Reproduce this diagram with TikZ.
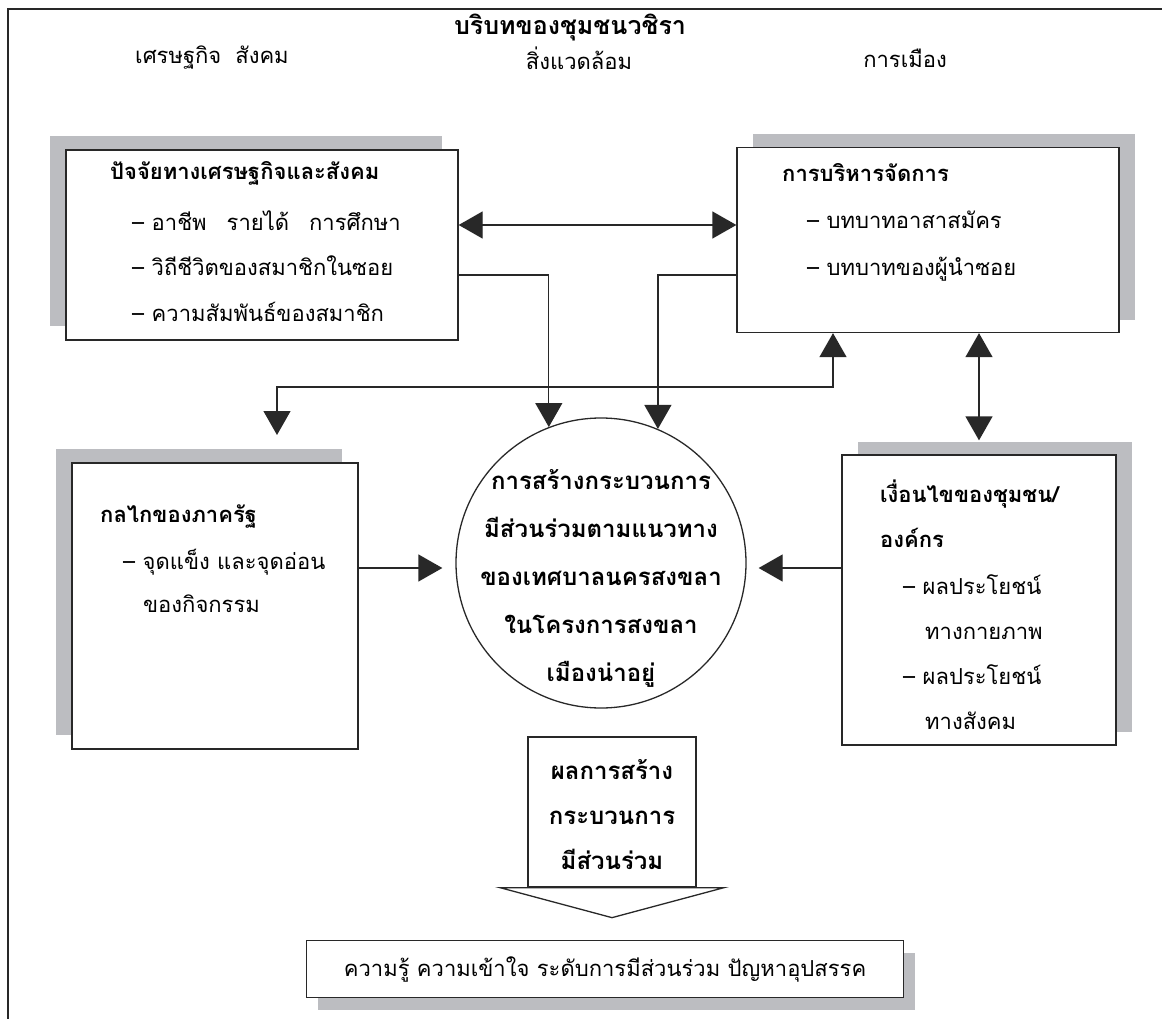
\documentclass[tikz,border=0pt]{standalone}
\usepackage{fontspec}
\setmainfont{Loma}[Script=Thai]
\usetikzlibrary{arrows.meta,shadows}

\definecolor{shadowgray}{RGB}{188,189,193}
\definecolor{linegray}{RGB}{40,40,40}

\begin{document}
\begin{tikzpicture}[x=1pt, y=-1pt,
  every node/.style={font=\fontsize{22}{26}\selectfont, inner sep=0pt},
  head/.style={font=\fontsize{22}{26}\selectfont\bfseries},
  bighead/.style={font=\fontsize{24}{28}\selectfont\bfseries},
  box/.style={draw=linegray, line width=1.3pt, fill=white},
  shadeL/.style={general shadow={fill=shadowgray, shadow xshift=-16pt, shadow yshift=14pt}},
  shadeR/.style={general shadow={fill=shadowgray, shadow xshift=16pt, shadow yshift=13pt}},
  arr/.style={-{Triangle[length=24pt,width=27pt]}, draw=linegray, line width=1.3pt},
  dbl/.style={{Triangle[length=24pt,width=27pt]}-{Triangle[length=24pt,width=27pt]}, draw=linegray, line width=1.3pt}]

\useasboundingbox (0,0) rectangle (1162,1019);

% outer frame, open at right and bottom
\draw[linegray, line width=2pt] (8,1019) -- (8,9) -- (1162,9);

% helper points for the connectors
\coordinate (link) at (600,225);
\coordinate (feed) at (600,275);
\coordinate (busL) at (277,435);
\coordinate (busR) at (833,387);
\coordinate (mid) at (600,568);

% heading
\node[font=\fontsize{25}{30}\selectfont\bfseries] (title) at (570,28) {บริบทของชุมชนวชิรา};
\node (econ) at (212,58) {เศรษฐกิจ\hspace{14pt}สังคม};
\node (env) at (579,58) {สิ่งแวดล้อม};
\node (pol) at (905,58) {การเมือง};

% economic and social factors
\node[box, shadeL, minimum width=392pt, minimum height=190pt] (eco) at (262,245) {};
\node[head, anchor=base west] (eco-h) at (110,180) {ปัจจัยทางเศรษฐกิจและสังคม};
\node[anchor=base west] (eco-1) at (132,231) {– อาชีพ\hspace{20pt}รายได้\hspace{20pt}การศึกษา};
\node[anchor=base west] (eco-2) at (132,276) {– วิถีชีวิตของสมาชิกในซอย};
\node[anchor=base west] (eco-3) at (132,321) {– ความสัมพันธ์ของสมาชิก};

% management
\node[box, shadeR, minimum width=382pt, minimum height=185pt] (admin) at (928,240) {};
\node[head, anchor=base west] (admin-h) at (782,182) {การบริหารจัดการ};
\node[anchor=base west] (admin-1) at (807,229) {– บทบาทอาสาสมัคร};
\node[anchor=base west] (admin-2) at (807,276) {– บทบาทของผู้นำซอย};

% state mechanism
\node[box, shadeL, minimum width=286pt, minimum height=286pt] (state) at (215,606) {};
\node[head, anchor=base west] (state-h) at (100,522) {กลไกของภาครัฐ};
\node[anchor=base west] (state-1) at (123,569) {– จุดแข็ง และจุดอ่อน};
\node[anchor=base west] (state-2) at (143,612) {ของกิจกรรม};

% community conditions
\node[box, shadeR, minimum width=274pt, minimum height=290pt] (cond) at (979,600) {};
\node[head, anchor=base west] (cond-h1) at (880,502) {เงื่อนไขของชุมชน/};
\node[head, anchor=base west] (cond-h2) at (880,547) {องค์กร};
\node[anchor=base west] (cond-1) at (903,594) {– ผลประโยชน์};
\node[anchor=base west] (cond-2) at (925,639) {ทางกายภาพ};
\node[anchor=base west] (cond-3) at (903,684) {– ผลประโยชน์};
\node[anchor=base west] (cond-4) at (925,729) {ทางสังคม};

% participation process
\node[draw=linegray, line width=1.3pt, circle, minimum size=290pt] (proc) at (601,563) {};
\foreach \t [count=\i] in {การสร้างกระบวนการ, มีส่วนร่วมตามแนวทาง, ของเทศบาลนครสงขลา, ในโครงการสงขลา, เมืองน่าอยู่}
  \node[bighead, anchor=base] (proc-\i) at (601,441+48*\i) {\t};

% result arrow
\node[box, minimum width=168pt, minimum height=150pt] (result) at (612,812) {};
\draw[linegray, line width=1.3pt, fill=white] ([xshift=-112pt]result.south) -- ([yshift=-30pt]result.south) -- ([xshift=112pt]result.south) -- cycle;
\foreach \t [count=\i] in {ผลการสร้าง, กระบวนการ, มีส่วนร่วม}
  \node[bighead, anchor=base] (result-\i) at (612,734+45*\i) {\t};

% outcome
\node[box, general shadow={fill=shadowgray, shadow xshift=11pt, shadow yshift=-12pt}, minimum width=597pt, minimum height=57pt] (outcome) at (605,969) {ความรู้ ความเข้าใจ ระดับการมีส่วนร่วม ปัญหาอุปสรรค};

% connectors
\draw[dbl] (eco.east |- link) -- (admin.west |- link);
\draw[arr] (eco.east |- feed) -| (proc.111);
\draw[arr] (admin.west |- feed) -| (proc.67);
\draw[dbl] (busL) |- (busR) -- (admin.south -| busR);
\draw[dbl] (admin.south -| cond.north) -- ([yshift=14pt]cond.north);
\draw[arr, shorten >=13pt] (state.east |- mid) -- (proc.west |- mid);
\draw[arr, shorten >=12pt] (cond.west |- mid) -- (proc.east |- mid);

\end{tikzpicture}
\end{document}
